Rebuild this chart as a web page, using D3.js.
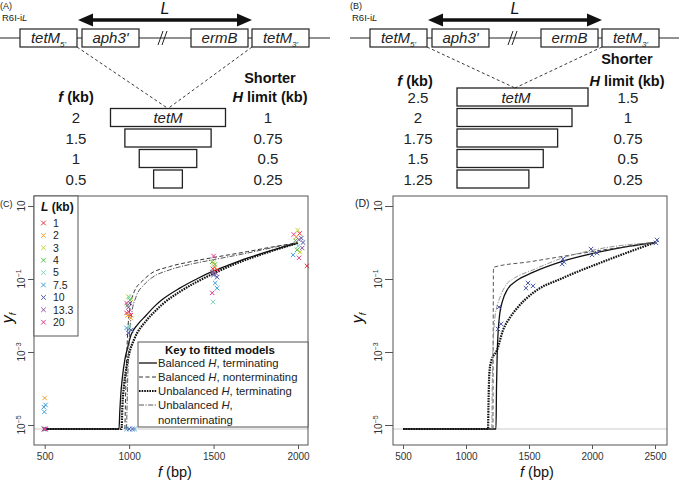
<!DOCTYPE html>
<html>
<head>
<meta charset="utf-8">
<script src="https://cdn.jsdelivr.net/npm/d3@7"></script>
<style>
  body { margin: 0; background: #fff; }
  svg { font-family: "Liberation Sans", Arial, sans-serif; }
</style>
</head>
<body>
<svg width="679" height="480"></svg>
<script>
// ---------- data ----------
// construct genes
const geneNames = ["tetM", "aph3'", "ermB", "tetM"];
const geneSubs = ["5'", "", "", "3'"];
// panel A rows (f in kb, shorter H limit in kb)
const fA = [2, 1.5, 1, 0.5];
const hA = [1, 0.75, 0.5, 0.25];
// panel B rows
const fB = [2.5, 2, 1.75, 1.5, 1.25];
const hB = [1.5, 1, 0.75, 0.5, 0.25];

// L (kb) groups of panel C
const lValues = [1, 2, 3, 4, 5, 7.5, 10, 13.3, 20];
// panel C observations: [f (bp), L (kb), log10 yf]
const c500 = [[495, 1, -5.11], [500, 4, -5.11], [505, 10, -5.11], [498, 13.3, -5.11], [502, 20, -5.11],
  [500, 2, -4.26], [495, 7.5, -4.51], [505, 7.5, -4.45], [498, 7.5, -4.64]];
const c1000 = [[985, 7.5, -5.11], [1000, 10, -5.11], [1020, 10, -5.11], [1032, 7.5, -5.11],
  [995, 3, -1.48], [1012, 3, -1.55], [1005, 4, -1.58], [990, 4, -1.72], [1000, 5, -1.5],
  [985, 20, -1.66], [1005, 13.3, -1.66], [995, 13.3, -1.78], [985, 1, -1.93], [1010, 1, -1.99],
  [998, 20, -1.9], [1010, 2, -2.07], [990, 2, -2.0], [985, 7.5, -2.34], [1000, 5, -2.3],
  [995, 10, -2.48], [1012, 10, -2.4]];
const c1500 = [[1500, 20, -0.37], [1492, 4, -0.53], [1500, 3, -0.56], [1506, 2, -0.67], [1521, 1, -0.75],
  [1492, 13.3, -0.81], [1500, 10, -0.89], [1521, 10, -0.95], [1510, 7.5, -1.11], [1521, 7.5, -1.25],
  [1492, 20, -1.38], [1497, 5, -1.63], [1508, 4, -0.6], [1496, 1, -0.72], [1515, 13.3, -0.85]];
const c2000 = [[1975, 20, 0.22], [1998, 3, 0.34], [2010, 1, 0.25], [2020, 10, 0.12], [1985, 4, 0.05],
  [2030, 10, 0.0], [1990, 2, 0.15], [2005, 13.3, 0.08], [2012, 3, -0.26], [2000, 5, -0.1],
  [1971, 7.5, -0.34], [2006, 20, -0.42], [2053, 1, -0.64], [2025, 13.3, -0.15], [1995, 4, -0.2]];

// panel D observations (L = 10 kb)
const fD = [1262, 1278, 1254, 1492, 1476, 1532, 1770, 1763, 1778, 1992, 2000, 2040, 2516, 2508];
const yD = [-1.77, -2.23, -2.37, -1.11, -1.25, -1.19, -0.45, -0.59, -0.53, -0.18, -0.34, -0.29, 0.07, -0.01];

// fitted model curves, [f, log10 yf]
const floorY = -5.11;
const balTermC = [[500, floorY], [940, floorY], [945, -4.6], [950, -4.2], [960, -3.7], [975, -3.2], [990, -2.9],
  [1010, -2.55], [1050, -2.25], [1100, -2.0], [1150, -1.75], [1200, -1.55], [1300, -1.25], [1400, -1.0],
  [1500, -0.78], [1600, -0.6], [1700, -0.43], [1800, -0.28], [1900, -0.14], [2000, -0.01]];
const balNonC = [[975, floorY], [980, -4.0], [990, -2.6], [1005, -1.8], [1030, -1.35], [1080, -1.05],
  [1120, -0.88], [1240, -0.66], [1360, -0.53], [1500, -0.41], [1700, -0.25], [1850, -0.12], [2000, -0.01]];
const unbTermC = [[500, floorY], [955, floorY], [960, -4.5], [970, -3.9], [985, -3.4], [1000, -3.05],
  [1030, -2.65], [1100, -2.15], [1150, -1.9], [1200, -1.68], [1300, -1.35], [1400, -1.08], [1500, -0.85],
  [1600, -0.64], [1700, -0.46], [1800, -0.3], [1900, -0.15], [2000, -0.01]];
const unbNonC = [[985, floorY], [990, -4.0], [1000, -2.7], [1015, -1.95], [1040, -1.5], [1090, -1.15],
  [1130, -0.98], [1240, -0.75], [1360, -0.6], [1500, -0.47], [1700, -0.29], [1850, -0.14], [2000, -0.01]];

const balTermD = [[500, floorY], [1238, floorY], [1242, -4.0], [1248, -3.0], [1256, -2.4], [1268, -1.95],
  [1290, -1.6], [1330, -1.28], [1400, -1.05], [1530, -0.82], [1770, -0.51], [2060, -0.26], [2300, -0.1], [2500, 0]];
const balNonD = [[1214, floorY], [1218, -0.68], [1500, -0.53], [2000, -0.25], [2500, 0.01]];
const unbTermD = [[500, floorY], [1175, floorY], [1178, -4.5], [1185, -3.6], [1200, -3.25], [1246, -2.95],
  [1294, -2.4], [1350, -2.05], [1405, -1.8], [1532, -1.38], [1770, -0.97], [2063, -0.56], [2300, -0.25], [2500, 0]];
const unbNonD = [[1205, floorY], [1210, -3.5], [1225, -2.2], [1250, -1.7], [1270, -1.5], [1320, -1.15],
  [1373, -1.0], [1532, -0.75], [1770, -0.42], [2063, -0.17], [2500, 0]];

const keyLabels = [["Balanced ", "H", ", terminating"], ["Balanced ", "H", ", nonterminating"],
  ["Unbalanced ", "H", ", terminating"], ["Unbalanced ", "H", ","]];
const yTicks = [10, 1e-1, 1e-3, 1e-5];

// ---------- styles ----------
const lColor = d3.scaleOrdinal().domain(lValues)
  .range(["#e8333a", "#f5a02c", "#c3d63a", "#56b947", "#7dd4bd", "#3e9fdc", "#4858a8", "#8e4fa8", "#e23a8c"]);
const lineStyles = [
  { dash: null, w: 1.3, c: "#111" },
  { dash: "4,2.5", w: 1, c: "#333" },
  { dash: "1.6,1", w: 2.2, c: "#111" },
  { dash: "5,1.5,1.2,1.5", w: 0.9, c: "#444" }
];

const svg = d3.select("svg");

function cross(g, cx, cy, color, s) {
  g.append("path")
    .attr("d", `M${cx - s},${cy - s}L${cx + s},${cy + s}M${cx - s},${cy + s}L${cx + s},${cy - s}`)
    .attr("stroke", color).attr("stroke-width", 1).attr("fill", "none");
}

// ---------- construct diagrams ----------
const geneX = [20, 82, 191, 252];
function drawConstruct(dx, tag) {
  const g = svg.append("g").attr("transform", `translate(${dx},0)`);
  g.append("text").attr("x", 0).attr("y", 9).attr("font-size", 9).attr("fill", "#222").text(tag);
  const r6 = g.append("text").attr("x", 2).attr("y", 21).attr("font-size", 9.5).attr("fill", "#222");
  r6.append("tspan").text("R6I-i");
  r6.append("tspan").attr("font-style", "italic").text("L");

  g.append("line").attr("x1", 0).attr("x2", 330).attr("y1", 38).attr("y2", 38)
    .attr("stroke", "#222").attr("stroke-width", 1);
  // break marks
  [160, 164].forEach(sx => {
    g.append("line").attr("x1", sx - 2).attr("y1", 45).attr("x2", sx + 3).attr("y2", 31)
      .attr("stroke", "#222").attr("stroke-width", 1);
  });
  geneNames.forEach((name, i) => {
    g.append("rect").attr("x", geneX[i]).attr("y", 29).attr("width", 57).attr("height", 18)
      .attr("fill", "#fff").attr("stroke", "#222").attr("stroke-width", 1.2);
    const t = g.append("text").attr("x", geneX[i] + 28.5).attr("y", 43)
      .attr("text-anchor", "middle").attr("font-size", 15).attr("font-style", "italic").attr("fill", "#222");
    t.append("tspan").text(name);
    if (geneSubs[i]) t.append("tspan").attr("font-size", 8).attr("dy", 4).text(geneSubs[i]);
  });
  // double-headed arrow over L
  const ax1 = geneX[1] - 4, ax2 = geneX[3];
  g.append("line").attr("x1", ax1 + 10).attr("x2", ax2 - 10).attr("y1", 20).attr("y2", 20)
    .attr("stroke", "#111").attr("stroke-width", 3.5);
  g.append("path").attr("d", `M${ax1},20L${ax1 + 15},13.5L${ax1 + 15},26.5Z`).attr("fill", "#111");
  g.append("path").attr("d", `M${ax2},20L${ax2 - 15},13.5L${ax2 - 15},26.5Z`).attr("fill", "#111");
  g.append("text").attr("x", (ax1 + ax2) / 2).attr("y", 14).attr("text-anchor", "middle")
    .attr("font-size", 16).attr("font-style", "italic").attr("fill", "#111").text("L");
  return g;
}

function header(x, y, parts) {
  const t = svg.append("text").attr("x", x).attr("y", y).attr("text-anchor", "middle")
    .attr("font-size", 14.5).attr("font-weight", "bold").attr("fill", "#111");
  parts.forEach(p => t.append("tspan").attr("font-style", p[1] ? "italic" : null).text(p[0]));
}

function drawRows(fs, hs, y0, fX, hX, boxLeft, wScale) {
  const rowY = d3.scaleLinear().domain([0, 1]).range([y0, y0 + 20.5]);
  fs.forEach((f, i) => {
    const cy = rowY(i), w = wScale(f);
    svg.append("rect").attr("x", boxLeft(w)).attr("y", cy - 9).attr("width", w).attr("height", 18)
      .attr("fill", "#fff").attr("stroke", "#222").attr("stroke-width", 1.3);
    svg.append("text").attr("x", fX).attr("y", cy + 5.5).attr("text-anchor", "middle")
      .attr("font-size", 15).attr("fill", "#222").text(f);
    svg.append("text").attr("x", hX).attr("y", cy + 5.5).attr("text-anchor", "middle")
      .attr("font-size", 15).attr("fill", "#222").text(hs[i]);
  });
  return rowY;
}

// Panel A
drawConstruct(0, "(A)");
const wA = d3.scaleLinear().domain([0, 2]).range([0, 115]);
const rowsA = drawRows(fA, hA, 117.5, 76, 268, w => 168 - w / 2, wA);
svg.append("text").attr("x", 168).attr("y", rowsA(0) + 5.5).attr("text-anchor", "middle")
  .attr("font-size", 15).attr("font-style", "italic").attr("fill", "#222").text("tetM");
header(76, 102, [["f", true], [" (kb)", false]]);
header(270, 83, [["Shorter", false]]);
header(270, 102, [["H", true], [" limit (kb)", false]]);
[[geneX[0] + 57, 47], [geneX[3], 47]].forEach(p => {
  svg.append("line").attr("x1", p[0]).attr("y1", p[1]).attr("x2", 168).attr("y2", rowsA(0) - 9)
    .attr("stroke", "#222").attr("stroke-width", 0.9).attr("stroke-dasharray", "3,2.5");
});

// Panel B
drawConstruct(350, "(B)");
const wB = d3.scaleLinear().domain([0, 2, 2.5]).range([0, 115, 131]);
const rowsB = drawRows(fB, hB, 97, 418, 628, () => 457, wB);
svg.append("text").attr("x", 516).attr("y", rowsB(0) + 5.5).attr("text-anchor", "middle")
  .attr("font-size", 15).attr("font-style", "italic").attr("fill", "#222").text("tetM");
header(415, 86, [["f", true], [" (kb)", false]]);
header(627, 64, [["Shorter", false]]);
header(627, 86, [["H", true], [" limit (kb)", false]]);
[[350 + geneX[0] + 57, 47], [350 + geneX[3], 47]].forEach(p => {
  svg.append("line").attr("x1", p[0]).attr("y1", p[1]).attr("x2", 515).attr("y2", rowsB(0) - 9)
    .attr("stroke", "#222").attr("stroke-width", 0.9).attr("stroke-dasharray", "3,2.5");
});

// ---------- plots ----------
function drawPlot(opt) {
  const x = d3.scaleLinear().domain(opt.xDomain).range(opt.xRange);
  const y = d3.scaleLog().domain([1e-5, 10]).range([425, 206]);
  const g = svg.append("g");
  const L = opt.frame[0], R = opt.frame[1], T = 196, B = 445;

  // floor reference line
  g.append("line").attr("x1", L).attr("x2", R).attr("y1", y(10 ** floorY)).attr("y2", y(10 ** floorY))
    .attr("stroke", "#ddd").attr("stroke-width", 1.6);

  const line = d3.line().x(d => x(d[0])).y(d => y(10 ** d[1])).curve(d3.curveMonotoneX);
  opt.curves.forEach((c, i) => {
    const s = lineStyles[i];
    g.append("path").attr("d", line(c)).attr("fill", "none").attr("stroke", opt.curveColors ? opt.curveColors[i] : s.c)
      .attr("stroke-width", s.w).attr("stroke-dasharray", s.dash);
  });

  opt.points.forEach(p => cross(g, x(p[0]), y(10 ** p[2]), p[1] === null ? opt.pointColor : lColor(p[1]), 2.2));

  // frame
  g.append("rect").attr("x", L).attr("y", T).attr("width", R - L).attr("height", B - T)
    .attr("fill", "none").attr("stroke", "#555").attr("stroke-width", 1);

  // x axis
  const xa = g.append("g").attr("transform", `translate(0,${B})`)
    .call(d3.axisBottom(x).tickValues(opt.xTicks).tickSize(4).tickPadding(4).tickFormat(d3.format("d")));
  xa.select(".domain").remove();
  xa.selectAll("line").attr("stroke", "#555");
  xa.selectAll("text").attr("font-size", 10).attr("fill", "#333").attr("font-family", "Liberation Sans, Arial, sans-serif");

  // y axis
  const ya = g.append("g").attr("transform", `translate(${L},0)`)
    .call(d3.axisLeft(y).tickValues(yTicks).tickSize(opt.yTick).tickFormat(""));
  ya.select(".domain").remove();
  ya.selectAll("line").attr("stroke", "#555");
  yTicks.forEach(v => {
    const e = Math.round(Math.log10(v));
    const t = g.append("text").attr("transform", `translate(${L - opt.yTick - 3},${y(v)}) rotate(-90)`)
      .attr("text-anchor", "middle").attr("font-size", 10).attr("fill", "#333");
    t.append("tspan").text("10");
    if (e !== 1) t.append("tspan").attr("font-size", 7).attr("dy", -4).text(String(e).replace("-", "\u2212"));
  });

  // titles
  const xt = g.append("text").attr("x", opt.xTitleX).attr("y", 476.5).attr("text-anchor", "middle")
    .attr("font-size", 14.5).attr("fill", "#111");
  xt.append("tspan").attr("font-style", "italic").text("f");
  xt.append("tspan").text(" (bp)");
  const yt = g.append("text").attr("transform", `translate(${opt.yTitleX},318) rotate(-90)`)
    .attr("text-anchor", "middle").attr("font-size", 16).attr("fill", "#111");
  yt.append("tspan").attr("font-style", "italic").text("y");
  yt.append("tspan").attr("font-style", "italic").attr("font-size", 9).attr("dy", 3).text("f");

  g.append("text").attr("x", opt.tagX).attr("y", 207).attr("font-size", opt.tagSize).attr("fill", "#222").text(opt.tag);
  return g;
}

const cPoints = [].concat(c500, c1000, c1500, c2000);
const gC = drawPlot({
  xDomain: [500, 2000], xRange: [44.7, 298], frame: [34, 308], xTicks: [500, 1000, 1500, 2000],
  curves: [balTermC, balNonC, unbTermC, unbNonC], points: cPoints,
  yTick: 6, xTitleX: 175, yTitleX: 13, tag: "(C)", tagX: 0, tagSize: 9
});

const dPoints = fD.map((f, i) => [f, null, yD[i]]);
drawPlot({
  xDomain: [500, 2500], xRange: [403, 655], frame: [393, 667], xTicks: [500, 1000, 1500, 2000, 2500],
  curves: [balTermD, balNonD, unbTermD, unbNonD], points: dPoints, pointColor: "#4a58a8",
  curveColors: ["#111", "#555", "#111", "#888"],
  yTick: 8, xTitleX: 537, yTitleX: 363, tag: "(D)", tagX: 355, tagSize: 10.5
});

// ---------- legends in C ----------
const lg = gC.append("g");
lg.append("rect").attr("x", 34).attr("y", 196).attr("width", 44).attr("height", 140)
  .attr("fill", "#fff").attr("stroke", "#555").attr("stroke-width", 1);
const lt = lg.append("text").attr("x", 41).attr("y", 211).attr("font-size", 12).attr("font-weight", "bold").attr("fill", "#111");
lt.append("tspan").attr("font-style", "italic").text("L");
lt.append("tspan").text(" (kb)");
const legY = d3.scaleLinear().domain([0, 1]).range([223, 235.4]);
lValues.forEach((v, i) => {
  cross(lg, 43.5, legY(i), lColor(v), 2.3);
  lg.append("text").attr("x", 53).attr("y", legY(i) + 3.8).attr("font-size", 10.5).attr("fill", "#222").text(v);
});

const kg = gC.append("g");
kg.append("rect").attr("x", 138).attr("y", 342).attr("width", 170).attr("height", 85)
  .attr("fill", "#fff").attr("stroke", "#555").attr("stroke-width", 1);
kg.append("text").attr("x", 220).attr("y", 353.5).attr("text-anchor", "middle")
  .attr("font-size", 11.5).attr("font-weight", "bold").attr("fill", "#111").text("Key to fitted models");
const keyY = d3.scaleLinear().domain([0, 1]).range([363, 377]);
keyLabels.forEach((parts, i) => {
  const s = lineStyles[i], cy = keyY(i);
  kg.append("line").attr("x1", 139).attr("x2", 157).attr("y1", cy).attr("y2", cy)
    .attr("stroke", s.c).attr("stroke-width", s.w).attr("stroke-dasharray", s.dash);
  const t = kg.append("text").attr("x", 158).attr("y", cy + 4).attr("font-size", 11.3).attr("fill", "#222");
  t.append("tspan").text(parts[0]);
  t.append("tspan").attr("font-style", "italic").text(parts[1]);
  t.append("tspan").text(parts[2]);
});
kg.append("text").attr("x", 158).attr("y", keyY(3) + 18.5).attr("font-size", 11.3).attr("fill", "#222").text("nonterminating");
</script>
</body>
</html>
